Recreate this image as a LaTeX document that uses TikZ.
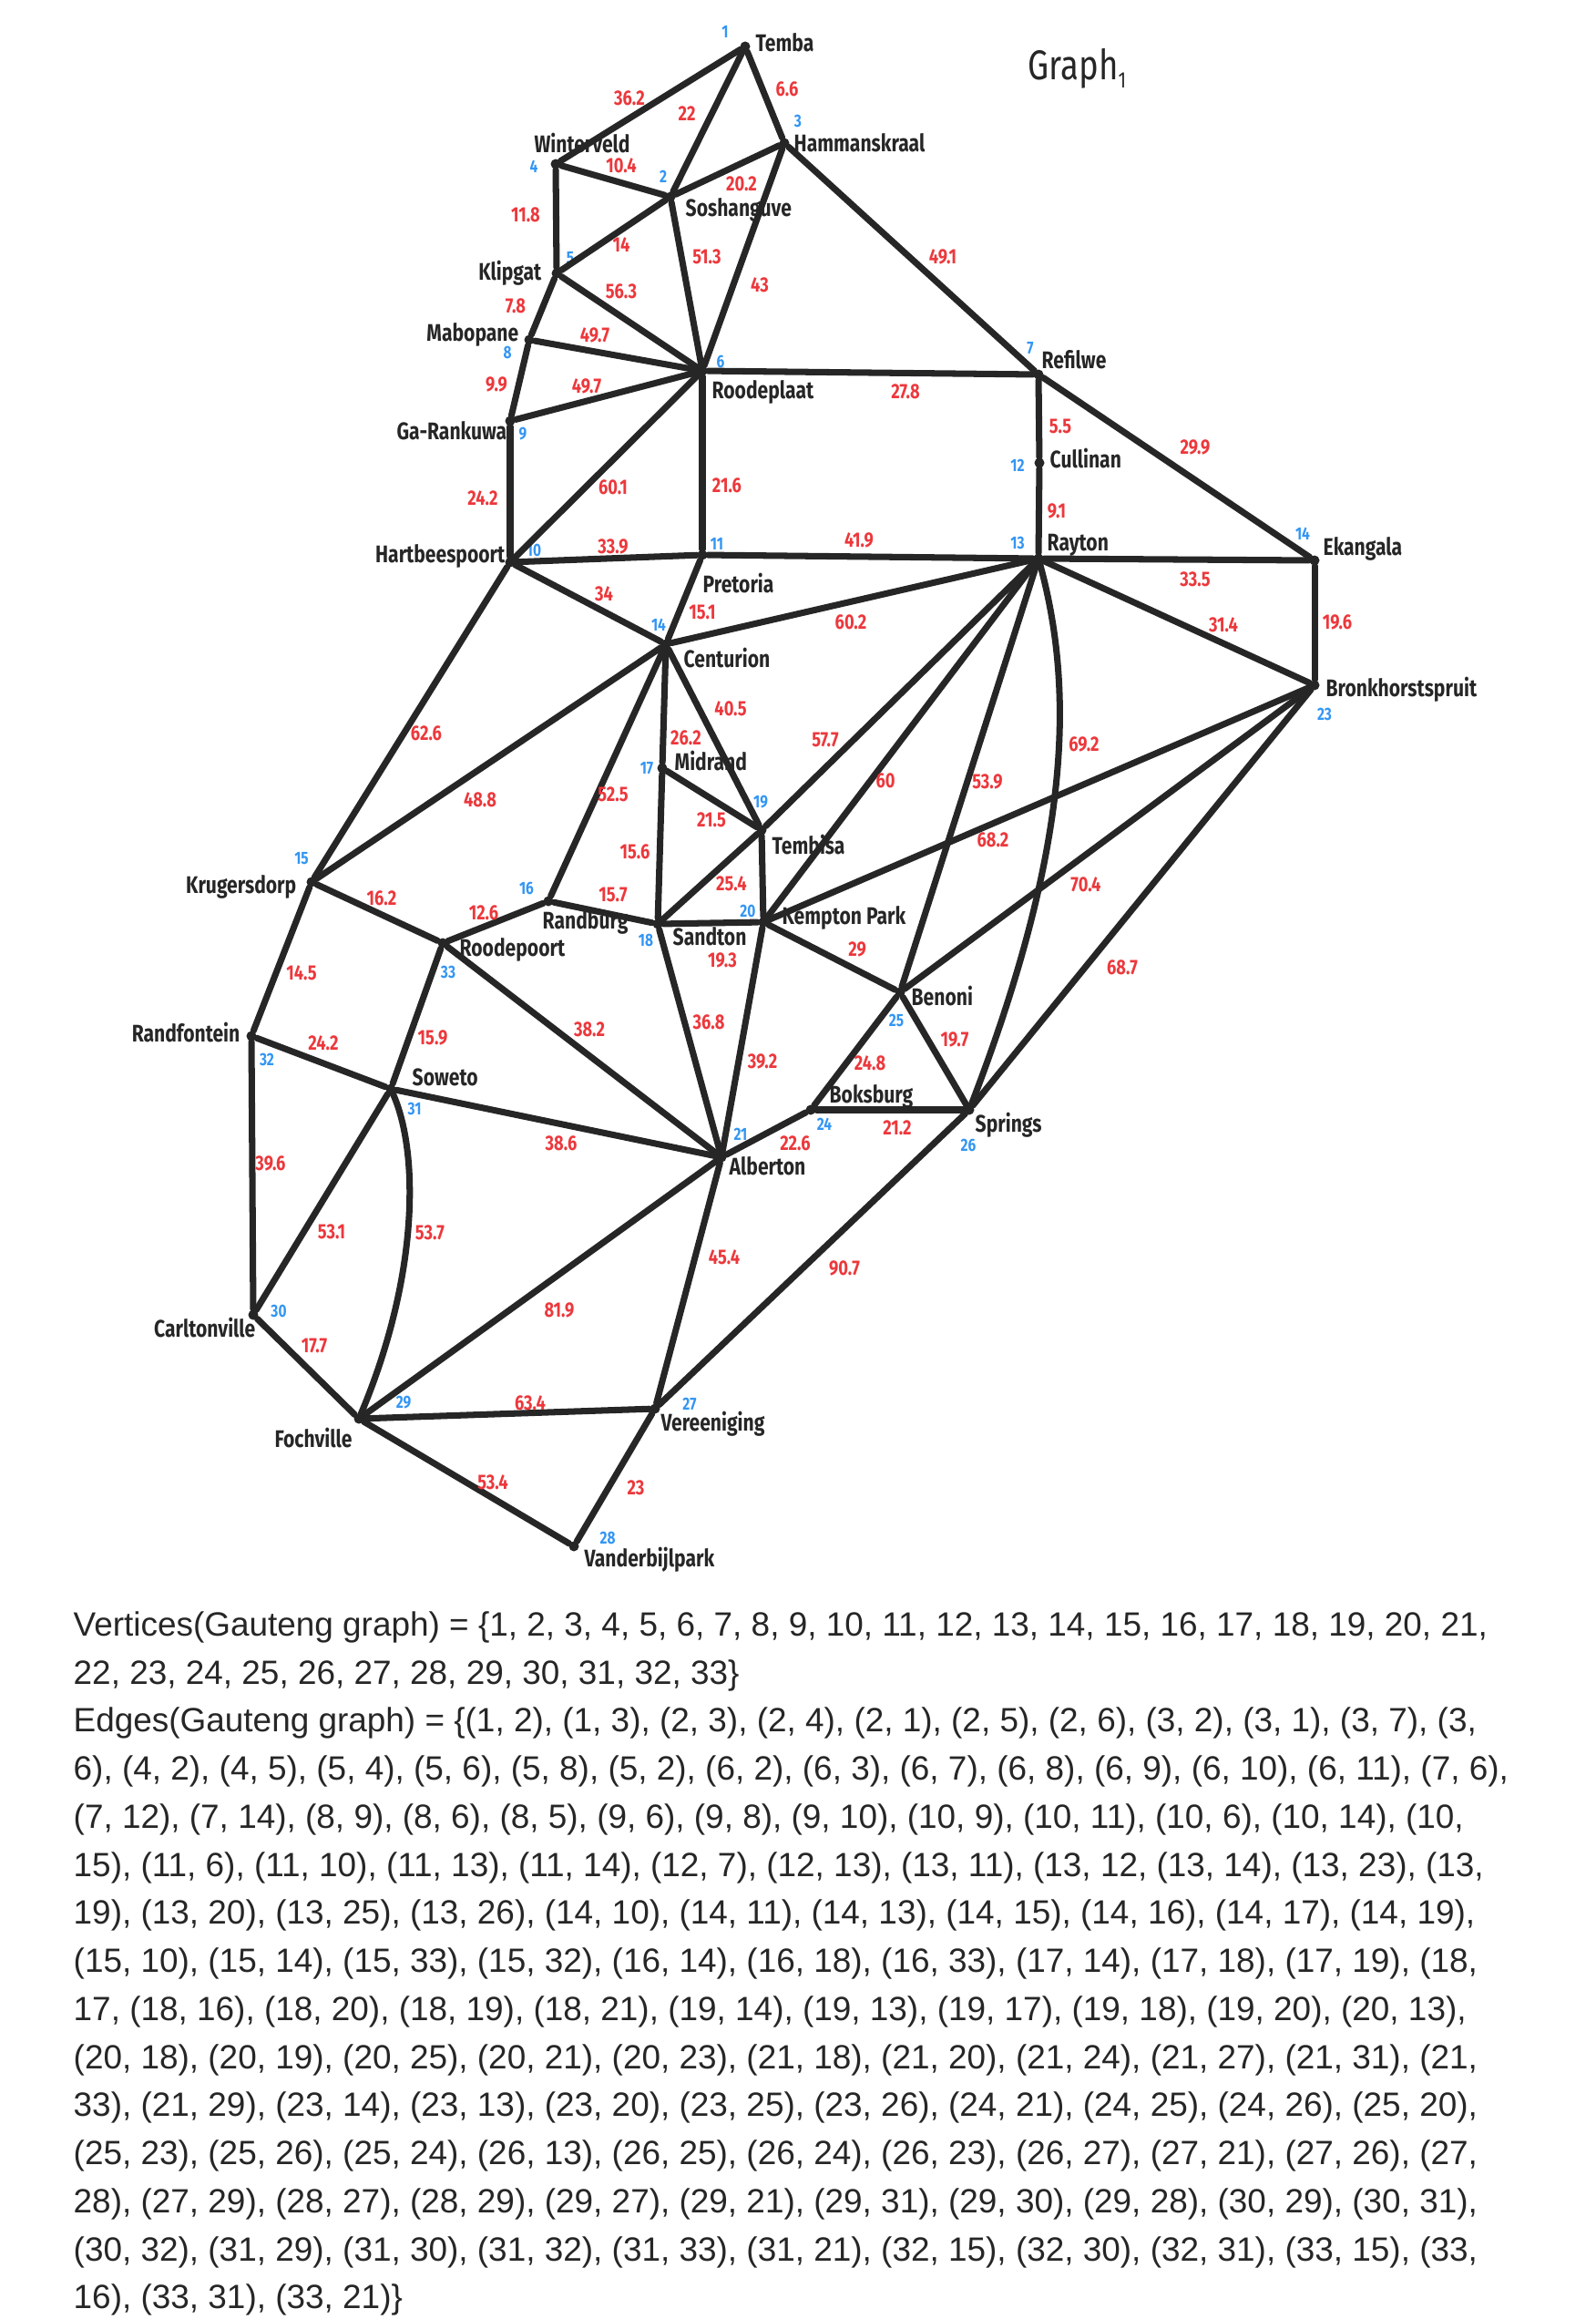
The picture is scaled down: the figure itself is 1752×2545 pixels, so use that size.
\documentclass[tikz,border=0pt]{standalone}
\usepackage{fontspec}
\setmainfont{Liberation Sans}
\newfontfamily\handfont[FakeStretch=0.8]{Fira Sans}
\definecolor{gaured}{RGB}{236,56,60}
\definecolor{gaublue}{RGB}{52,150,243}
\definecolor{gauink}{RGB}{38,38,38}

\begin{document}
\begin{tikzpicture}[x=0.01cm, y=-0.01cm, every node/.style={font=\handfont}]
  \tikzset{
      city/.style={circle, fill=gauink, inner sep=0pt, minimum size=0.11cm},
      town/.style={inner sep=0pt, font=\handfont\bfseries\fontsize{7.5}{8}\selectfont, text=gauink},
      idx/.style={inner sep=0pt, font=\handfont\bfseries\fontsize{5.5}{6}\selectfont, text=gaublue},
      weight/.style={inner sep=0pt, font=\handfont\bfseries\fontsize{6.5}{7}\selectfont, text=gaured},
      road/.style={draw=gauink, line width=2pt, line cap=round}
  }
  \useasboundingbox (0,0) rectangle (1752,2545);

  \node[town, anchor=west, font=\handfont\fontsize{13}{14}\selectfont] (title) at (1128,75) {Graph\raisebox{-0.4ex}{\fontsize{7}{7}\selectfont 1}};

  \node[city] (temba) at (818,51) {};          \node[city] (soshanguve) at (736,216) {};
  \node[city] (hammanskraal) at (861,157) {};  \node[city] (winterveld) at (610,180) {};
  \node[city] (klipgat) at (611,300) {};       \node[city] (roodeplaat) at (771,407) {};
  \node[city] (refilwe) at (1140,411) {};      \node[city] (mabopane) at (581,373) {};
  \node[city] (garankuwa) at (560,462) {};     \node[city] (hartbeespoort) at (560,617) {};
  \node[city] (pretoria) at (771,609) {};      \node[city] (cullinan) at (1141,508) {};
  \node[city] (rayton) at (1140,613) {};       \node[city] (centurion) at (731,707) {};
  \node[city] (krugersdorp) at (342,968) {};   \node[city] (randburg) at (602,989) {};
  \node[city] (midrand) at (727,843) {};       \node[city] (sandton) at (722,1014) {};
  \node[city] (tembisa) at (836,911) {};       \node[city] (kemptonpark) at (838,1012) {};
  \node[city] (alberton) at (792,1270) {};     \node[city] (ekangala) at (1443,615) {};
  \node[city] (bronkhorstspruit) at (1443,752) {};
  \node[city] (boksburg) at (890,1218) {};     \node[city] (benoni) at (988,1089) {};
  \node[city] (springs) at (1064,1218) {};     \node[city] (vereeniging) at (719,1546) {};
  \node[city] (vanderbijlpark) at (630,1697) {};
  \node[city] (fochville) at (394,1557) {};    \node[city] (carltonville) at (278,1443) {};
  \node[city] (soweto) at (429,1195) {};       \node[city] (randfontein) at (276,1137) {};
  \node[city] (roodepoort) at (486,1035) {};

  \node[town, anchor=west] (ltemba) at (829,47) {Temba};
  \node[town, anchor=west] (lhammanskraal) at (871,157) {Hammanskraal};
  \node[town] (lwinterveld) at (639,157) {Winterveld};
  \node[town, anchor=west] (lsoshanguve) at (752,230) {Soshanguve};
  \node[town, anchor=east] (lklipgat) at (595,300) {Klipgat};
  \node[town, anchor=east] (lmabopane) at (570,367) {Mabopane};
  \node[town, anchor=west] (lroodeplaat) at (781,430) {Roodeplaat};
  \node[town, anchor=east] (lgarankuwa) at (557,473) {Ga-Rankuwa};
  \node[town, anchor=east] (lhartbeespoort) at (555,610) {Hartbeespoort};
  \node[town, anchor=west] (lpretoria) at (771,640) {Pretoria};
  \node[town, anchor=west] (lcenturion) at (750,722) {Centurion};
  \node[town, anchor=west] (lrefilwe) at (1143,395) {Refilwe};
  \node[town, anchor=west] (lcullinan) at (1152,503) {Cullinan};
  \node[town, anchor=west] (lrayton) at (1149,598) {Rayton};
  \node[town, anchor=west] (lekangala) at (1452,602) {Ekangala};
  \node[town, anchor=west] (lbronkhorstspruit) at (1455,757) {Bronkhorstspruit};
  \node[town, anchor=west] (lmidrand) at (740,835) {Midrand};
  \node[town, anchor=west] (ltembisa) at (847,927) {Tembisa};
  \node[town, anchor=west] (lkemptonpark) at (858,1007) {Kempton Park};
  \node[town, anchor=west] (lsandton) at (738,1028) {Sandton};
  \node[town, anchor=west] (lbenoni) at (1000,1093) {Benoni};
  \node[town, anchor=west] (lboksburg) at (910,1203) {Boksburg};
  \node[town, anchor=west] (lsprings) at (1070,1235) {Springs};
  \node[town, anchor=west] (lalberton) at (800,1280) {Alberton};
  \node[town, anchor=east] (lkrugersdorp) at (326,973) {Krugersdorp};
  \node[town, anchor=west] (lrandburg) at (595,1012) {Randburg};
  \node[town, anchor=west] (lroodepoort) at (504,1042) {Roodepoort};
  \node[town, anchor=east] (lrandfontein) at (264,1133) {Randfontein};
  \node[town, anchor=west] (lsoweto) at (452,1182) {Soweto};
  \node[town, anchor=east] (lcarltonville) at (281,1457) {Carltonville};
  \node[town] (lfochville) at (344,1578) {Fochville};
  \node[town, anchor=west] (lvereeniging) at (725,1563) {Vereeniging};
  \node[town, anchor=west] (lvanderbijlpark) at (641,1712) {Vanderbijlpark};

  \node[idx] (i1) at (796,35) {1};     \node[idx] (i3) at (876,133) {3};
  \node[idx] (i4) at (586,183) {4};    \node[idx] (i2) at (728,194) {2};
  \node[idx] (i5) at (626,283) {5};    \node[idx] (i8) at (557,387) {8};
  \node[idx] (i6) at (791,397) {6};    \node[idx] (i9) at (574,476) {9};
  \node[idx] (i10) at (586,604) {10};  \node[idx] (i11) at (787,597) {11};
  \node[idx] (i14) at (723,686) {14};  \node[idx] (i7) at (1131,382) {7};
  \node[idx] (i12) at (1117,511) {12}; \node[idx] (i13) at (1117,596) {13};
  \node[idx] (i22) at (1430,586) {14}; \node[idx] (i23) at (1454,784) {23};
  \node[idx] (i17) at (710,843) {17};  \node[idx] (i19) at (835,880) {19};
  \node[idx] (i20) at (821,1000) {20}; \node[idx] (i18) at (709,1032) {18};
  \node[idx] (i25) at (984,1120) {25}; \node[idx] (i24) at (905,1234) {24};
  \node[idx] (i21) at (813,1245) {21}; \node[idx] (i26) at (1063,1257) {26};
  \node[idx] (i15) at (331,942) {15};  \node[idx] (i16) at (578,975) {16};
  \node[idx] (i33) at (492,1067) {33}; \node[idx] (i32) at (293,1163) {32};
  \node[idx] (i31) at (455,1217) {31}; \node[idx] (i30) at (306,1439) {30};
  \node[idx] (i29) at (443,1539) {29}; \node[idx] (i27) at (757,1541) {27};
  \node[idx] (i28) at (667,1688) {28};

  \draw[road] (temba) -- (winterveld);   \draw[road] (temba) -- (soshanguve);
  \draw[road] (temba) -- (hammanskraal); \draw[road] (winterveld) -- (soshanguve);
  \draw[road] (soshanguve) -- (hammanskraal); \draw[road] (winterveld) -- (klipgat);
  \draw[road] (klipgat) -- (soshanguve); \draw[road] (soshanguve) -- (roodeplaat);
  \draw[road] (hammanskraal) -- (roodeplaat); \draw[road] (hammanskraal) -- (refilwe);
  \draw[road] (klipgat) -- (mabopane);   \draw[road] (klipgat) -- (roodeplaat);
  \draw[road] (mabopane) -- (roodeplaat); \draw[road] (mabopane) -- (garankuwa);
  \draw[road] (garankuwa) -- (roodeplaat); \draw[road] (garankuwa) -- (hartbeespoort);
  \draw[road] (roodeplaat) -- (hartbeespoort); \draw[road] (roodeplaat) -- (pretoria);
  \draw[road] (roodeplaat) -- (refilwe); \draw[road] (refilwe) -- (cullinan);
  \draw[road] (cullinan) -- (rayton);    \draw[road] (refilwe) -- (ekangala);
  \draw[road] (hartbeespoort) -- (pretoria); \draw[road] (pretoria) -- (rayton);
  \draw[road] (rayton) -- (ekangala);    \draw[road] (ekangala) -- (bronkhorstspruit);
  \draw[road] (rayton) -- (bronkhorstspruit); \draw[road] (hartbeespoort) -- (centurion);
  \draw[road] (pretoria) -- (centurion); \draw[road] (centurion) -- (rayton);
  \draw[road] (hartbeespoort) -- (krugersdorp); \draw[road] (centurion) -- (krugersdorp);
  \draw[road] (centurion) -- (randburg); \draw[road] (centurion) -- (midrand);
  \draw[road] (centurion) -- (tembisa);  \draw[road] (midrand) -- (sandton);
  \draw[road] (midrand) -- (tembisa);    \draw[road] (sandton) -- (tembisa);
  \draw[road] (tembisa) -- (kemptonpark); \draw[road] (randburg) -- (sandton);
  \draw[road] (sandton) -- (kemptonpark); \draw[road] (tembisa) -- (rayton);
  \draw[road] (kemptonpark) -- (rayton); \draw[road] (benoni) -- (rayton);
  \draw[road] (rayton) .. controls (1180,760) and (1175,930) .. (springs);
  \draw[road] (kemptonpark) -- (bronkhorstspruit); \draw[road] (benoni) -- (bronkhorstspruit);
  \draw[road] (springs) -- (bronkhorstspruit); \draw[road] (kemptonpark) -- (benoni);
  \draw[road] (sandton) -- (alberton);   \draw[road] (kemptonpark) -- (alberton);
  \draw[road] (alberton) -- (boksburg);  \draw[road] (boksburg) -- (benoni);
  \draw[road] (benoni) -- (springs);     \draw[road] (boksburg) -- (springs);
  \draw[road] (alberton) -- (vereeniging); \draw[road] (springs) -- (vereeniging);
  \draw[road] (alberton) -- (fochville); \draw[road] (roodepoort) -- (alberton);
  \draw[road] (soweto) -- (alberton);    \draw[road] (krugersdorp) -- (roodepoort);
  \draw[road] (roodepoort) -- (randburg); \draw[road] (krugersdorp) -- (randfontein);
  \draw[road] (randfontein) -- (soweto); \draw[road] (roodepoort) -- (soweto);
  \draw[road] (randfontein) -- (carltonville); \draw[road] (soweto) -- (carltonville);
  \draw[road] (soweto) .. controls (460,1265) and (460,1400) .. (fochville);
  \draw[road] (carltonville) -- (fochville); \draw[road] (fochville) -- (vereeniging);
  \draw[road] (fochville) -- (vanderbijlpark); \draw[road] (vereeniging) -- (vanderbijlpark);

  \node[weight] (w1_4) at (691,108) {36.2};   \node[weight] (w1_2) at (754,125) {22};
  \node[weight] (w1_3) at (864,98) {6.6};     \node[weight] (w4_2) at (682,182) {10.4};
  \node[weight] (w2_3) at (814,202) {20.2};   \node[weight] (w4_5) at (577,236) {11.8};
  \node[weight] (w5_2) at (682,269) {14};     \node[weight] (w2_6) at (776,282) {51.3};
  \node[weight] (w3_6) at (834,313) {43};     \node[weight] (w5_8) at (566,336) {7.8};
  \node[weight] (w5_6) at (682,320) {56.3};   \node[weight] (w8_6) at (653,368) {49.7};
  \node[weight] (w8_9) at (545,422) {9.9};    \node[weight] (w9_6) at (644,424) {49.7};
  \node[weight] (w9_10) at (530,547) {24.2};  \node[weight] (w6_10) at (673,535) {60.1};
  \node[weight] (w6_11) at (798,533) {21.6};  \node[weight] (w10_11) at (673,600) {33.9};
  \node[weight] (w11_13) at (943,593) {41.9}; \node[weight] (w10_14) at (663,652) {34};
  \node[weight] (w11_14) at (771,672) {15.1}; \node[weight] (w13_14) at (934,683) {60.2};
  \node[weight] (w6_7) at (994,430) {27.8};   \node[weight] (w3_7) at (1035,282) {49.1};
  \node[weight] (w7_12) at (1164,468) {5.5};  \node[weight] (w7_22) at (1312,491) {29.9};
  \node[weight] (w12_13) at (1160,561) {9.1}; \node[weight] (w13_22) at (1312,636) {33.5};
  \node[weight] (w13_23) at (1343,686) {31.4}; \node[weight] (w22_23) at (1468,683) {19.6};
  \node[weight] (w14_19) at (802,778) {40.5}; \node[weight] (w14_17) at (753,810) {26.2};
  \node[weight] (w13_19) at (906,812) {57.7}; \node[weight] (w13_20) at (972,857) {60};
  \node[weight] (w13_25) at (1084,858) {53.9}; \node[weight] (w13_26) at (1190,817) {69.2};
  \node[weight] (w14_16) at (673,872) {52.5}; \node[weight] (w17_19) at (781,900) {21.5};
  \node[weight] (w17_18) at (697,935) {15.6}; \node[weight] (w20_23) at (1090,922) {68.2};
  \node[weight] (w18_19) at (803,970) {25.4}; \node[weight] (w16_18) at (673,982) {15.7};
  \node[weight] (w18_20) at (793,1054) {19.3}; \node[weight] (w20_25) at (941,1042) {29};
  \node[weight] (w18_21) at (778,1122) {36.8}; \node[weight] (w25_23) at (1192,971) {70.4};
  \node[weight] (w26_23) at (1232,1062) {68.7}; \node[weight] (w14_15) at (527,878) {48.8};
  \node[weight] (w15_33) at (419,986) {16.2}; \node[weight] (w33_16) at (531,1002) {12.6};
  \node[weight] (w15_32) at (331,1068) {14.5}; \node[weight] (w32_31) at (355,1145) {24.2};
  \node[weight] (w33_31) at (475,1139) {15.9}; \node[weight] (w33_21) at (647,1130) {38.2};
  \node[weight] (w31_21) at (616,1255) {38.6}; \node[weight] (w32_30) at (297,1277) {39.6};
  \node[weight] (w10_15) at (468,805) {62.6}; \node[weight] (w20_21) at (837,1165) {39.2};
  \node[weight] (w24_25) at (955,1167) {24.8}; \node[weight] (w25_26) at (1048,1141) {19.7};
  \node[weight] (w24_26) at (985,1238) {21.2}; \node[weight] (w21_24) at (873,1255) {22.6};
  \node[weight] (w21_27) at (795,1380) {45.4}; \node[weight] (w26_27) at (927,1392) {90.7};
  \node[weight] (w31_30) at (364,1352) {53.1}; \node[weight] (w31_29) at (472,1353) {53.7};
  \node[weight] (w21_29) at (614,1438) {81.9}; \node[weight] (w30_29) at (345,1477) {17.7};
  \node[weight] (w29_27) at (582,1540) {63.4}; \node[weight] (w29_28) at (541,1627) {53.4};
  \node[weight] (w27_28) at (698,1633) {23};

  \node[anchor=north west, align=left, inner sep=0pt, text=gauink,
        font=\rmfamily\fontsize{10.5}{15}\selectfont] (sets) at (80,1768) {%
    Vertices(Gauteng graph) = \{1, 2, 3, 4, 5, 6, 7, 8, 9, 10, 11, 12, 13, 14, 15, 16, 17, 18, 19, 20, 21,\\
    22, 23, 24, 25, 26, 27, 28, 29, 30, 31, 32, 33\}\\
    Edges(Gauteng graph) = \{(1, 2), (1, 3), (2, 3), (2, 4), (2, 1), (2, 5), (2, 6), (3, 2), (3, 1), (3, 7), (3,\\
    6), (4, 2), (4, 5), (5, 4), (5, 6), (5, 8), (5, 2), (6, 2), (6, 3), (6, 7), (6, 8), (6, 9), (6, 10), (6, 11), (7, 6),\\
    (7, 12), (7, 14), (8, 9), (8, 6), (8, 5), (9, 6), (9, 8), (9, 10), (10, 9), (10, 11), (10, 6), (10, 14), (10,\\
    15), (11, 6), (11, 10), (11, 13), (11, 14), (12, 7), (12, 13), (13, 11), (13, 12, (13, 14), (13, 23), (13,\\
    19), (13, 20), (13, 25), (13, 26), (14, 10), (14, 11), (14, 13), (14, 15), (14, 16), (14, 17), (14, 19),\\
    (15, 10), (15, 14), (15, 33), (15, 32), (16, 14), (16, 18), (16, 33), (17, 14), (17, 18), (17, 19), (18,\\
    17, (18, 16), (18, 20), (18, 19), (18, 21), (19, 14), (19, 13), (19, 17), (19, 18), (19, 20), (20, 13),\\
    (20, 18), (20, 19), (20, 25), (20, 21), (20, 23), (21, 18), (21, 20), (21, 24), (21, 27), (21, 31), (21,\\
    33), (21, 29), (23, 14), (23, 13), (23, 20), (23, 25), (23, 26), (24, 21), (24, 25), (24, 26), (25, 20),\\
    (25, 23), (25, 26), (25, 24), (26, 13), (26, 25), (26, 24), (26, 23), (26, 27), (27, 21), (27, 26), (27,\\
    28), (27, 29), (28, 27), (28, 29), (29, 27), (29, 21), (29, 31), (29, 30), (29, 28), (30, 29), (30, 31),\\
    (30, 32), (31, 29), (31, 30), (31, 32), (31, 33), (31, 21), (32, 15), (32, 30), (32, 31), (33, 15), (33,\\
    16), (33, 31), (33, 21)\}};
\end{tikzpicture}
\end{document}
